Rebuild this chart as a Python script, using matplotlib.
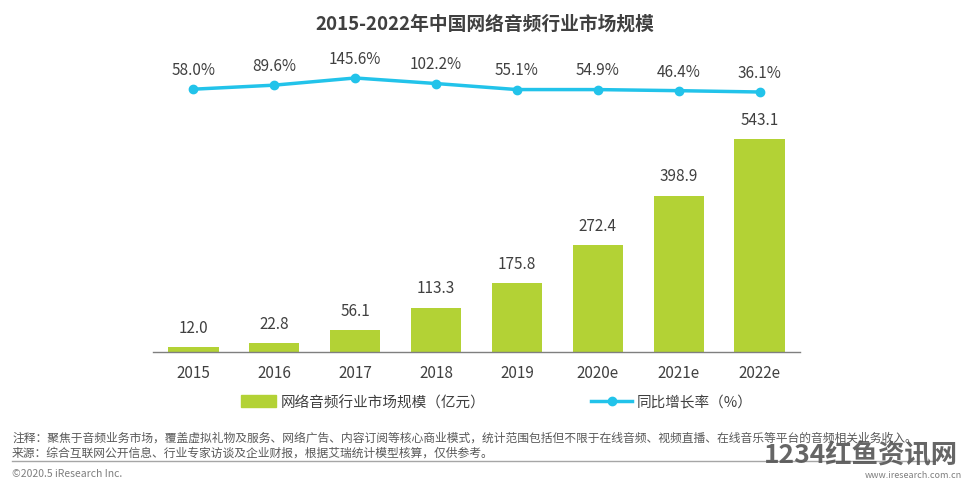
import matplotlib
matplotlib.use('Agg')
import matplotlib.pyplot as plt
from matplotlib.patches import Patch
from matplotlib.lines import Line2D

plt.rcParams['font.family'] = ['Noto Sans CJK SC', 'DejaVu Sans']

years = ['2015', '2016', '2017', '2018', '2019', '2020e', '2021e', '2022e']
market = [12.0, 22.8, 56.1, 113.3, 175.8, 272.4, 398.9, 543.1]
growth = [58.0, 89.6, 145.6, 102.2, 55.1, 54.9, 46.4, 36.1]

BAR_C = '#B3D235'
LINE_C = '#22C3EA'
TXT_C = '#404040'

W, H = 970, 481
fig = plt.figure(figsize=(W / 100, H / 100), dpi=100)

# bar axes
ax = fig.add_axes([153 / W, (H - 353) / H, (800 - 153) / W, 233 / H])
x = range(len(years))
ax.bar(x, market, width=0.62, color=BAR_C)
ax.set_ylim(0, 594)
ax.set_xlim(-0.5, len(years) - 0.5)
for i, v in enumerate(market):
    ax.annotate(f'{v:.1f}', (i, v), xytext=(0, 8), textcoords='offset points',
                ha='center', va='bottom', fontsize=11, color=TXT_C)
ax.set_xticks(list(x))
ax.set_xticklabels(years, fontsize=11, color=TXT_C)
ax.tick_params(axis='x', length=0, pad=9)
ax.set_yticks([])
for s in ['top', 'right', 'left']:
    ax.spines[s].set_visible(False)
ax.spines['bottom'].set_color('#7f7f7f')
ax.spines['bottom'].set_linewidth(1)

# growth line axes
ax2 = fig.add_axes([153 / W, (H - 110) / H, (800 - 153) / W, 50 / H])
ax2.plot(list(x), growth, color=LINE_C, lw=2.5, marker='o', ms=6)
ax2.set_ylim(-96.8, 294)
ax2.set_xlim(-0.5, len(years) - 0.5)
for i, v in enumerate(growth):
    ax2.annotate(f'{v:.1f}%', (i, v), xytext=(0, 8), textcoords='offset points',
                 ha='center', va='bottom', fontsize=11, color=TXT_C)
ax2.axis('off')

# title
fig.text(0.5, 1 - 24 / H, '2015-2022年中国网络音频行业市场规模', ha='center', va='center',
         fontsize=13.5, fontweight='bold', color=TXT_C)

# legends
leg1 = fig.legend(handles=[Patch(color=BAR_C)], labels=['网络音频行业市场规模（亿元）'],
                  loc='center left', bbox_to_anchor=(228 / W, 1 - 403 / H), frameon=False,
                  fontsize=10.5, handlelength=2.4, handleheight=0.9, handletextpad=0.3,
                  labelcolor=TXT_C)
leg2 = fig.legend(handles=[Line2D([], [], color=LINE_C, lw=2.5, marker='o', ms=6)],
                  labels=['同比增长率（%）'],
                  loc='center left', bbox_to_anchor=(578 / W, 1 - 403 / H), frameon=False,
                  fontsize=10.5, handlelength=2.8, handletextpad=0.3, labelcolor=TXT_C)

# footnotes
fig.text(12 / W, 1 - 438 / H,
         '注释：聚焦于音频业务市场，覆盖虚拟礼物及服务、网络广告、内容订阅等核心商业模式，统计范围包括但不限于在线音频、视频直播、在线音乐等平台的音频相关业务收入。',
         ha='left', va='center', fontsize=8.5, color='#595959')
fig.text(12 / W, 1 - 453 / H,
         '来源：综合互联网公开信息、行业专家访谈及企业财报，根据艾瑞统计模型核算，仅供参考。',
         ha='left', va='center', fontsize=8.5, color='#595959')
fig.add_artist(Line2D([12 / W, 935 / W], [1 - 462 / H, 1 - 462 / H], color='#a6a6a6', lw=1))
fig.text(12 / W, 1 - 474 / H, '©2020.5 iResearch Inc.', ha='left', va='center',
         fontsize=7.5, color='#7f7f7f')
fig.text(962 / W, 1 - 476 / H, 'www.iresearch.com.cn', ha='right', va='center',
         fontsize=6.5, color='#7f7f7f')
fig.text(861 / W, 1 - 456 / H, '1234红鱼资讯网', ha='center', va='center',
         fontsize=19, fontweight='bold', color='#555555', alpha=0.9)

fig.savefig('out.png', dpi=100)
